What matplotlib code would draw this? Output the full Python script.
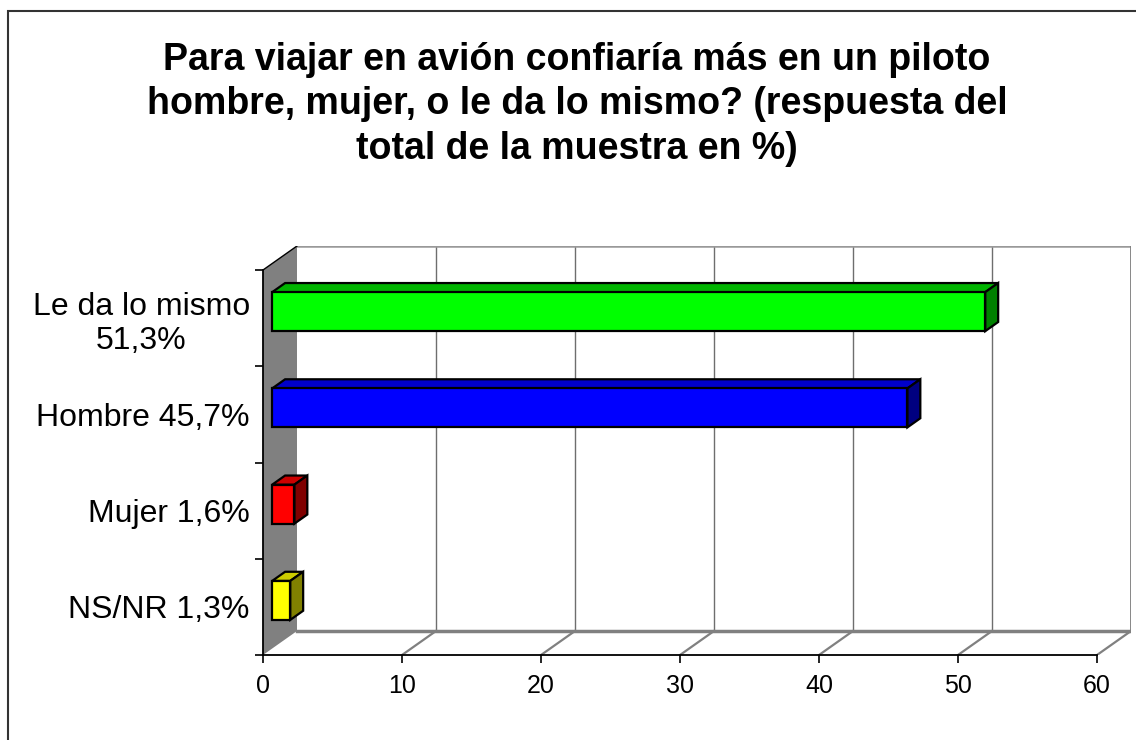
import matplotlib
matplotlib.use("Agg")
import matplotlib.pyplot as plt
from matplotlib.patches import Polygon, Rectangle

plt.rcParams["font.family"] = ["Liberation Sans", "DejaVu Sans"]

# Data (bottom to top)
categories = ["NS/NR 1,3%", "Mujer 1,6%", "Hombre 45,7%", "Le da lo mismo\n51,3%"]
values = [1.3, 1.6, 45.7, 51.3]
front_colors = ["#FFFF00", "#FF0000", "#0000FF", "#00FF00"]
top_colors = ["#CCCC00", "#CC0000", "#0000CC", "#00B400"]
side_colors = ["#808000", "#800000", "#000080", "#008000"]
xticks = [0, 10, 20, 30, 40, 50, 60]
title = ("Para viajar en avión confiaría más en un piloto\n"
         "hombre, mujer, o le da lo mismo? (respuesta del\n"
         "total de la muestra en %)")

W, H = 1136, 740
fig = plt.figure(figsize=(W / 100, H / 100), dpi=100)

# 3D box geometry (front plane + depth offset)
VMAX = 60
px_per_val = (1097 - 263) / VMAX
px_per_cat = (655 - 270) / len(categories)
DX = 34 / px_per_val
DY = 24 / px_per_cat
T_FRONT, T_BACK = 0.27, 0.65
BAR_H = 0.405
ncat = len(categories)
lo, hi = -0.5, ncat - 0.5


def proj(v, c, t):
    return (v + DX * t, c + DY * t)


ax = fig.add_axes([263 / W, (H - 655) / H, (1131 - 263) / W, (655 - 246) / H])
ax.set_xlim(0, VMAX + DX)
ax.set_ylim(lo, hi + DY)
for s in ax.spines.values():
    s.set_visible(False)

# back wall
back = Polygon([proj(0, lo, 1), proj(VMAX, lo, 1), proj(VMAX, hi, 1), proj(0, hi, 1)],
               closed=True, facecolor="white", edgecolor="none", zorder=0)
ax.add_patch(back)
for v in xticks[1:]:
    (x0, y0), (x1, y1) = proj(v, lo, 1), proj(v, hi, 1)
    ax.plot([x0, x1], [y0, y1], color="#6e6e6e", lw=1.0, zorder=1)
    (x0, y0), (x1, y1) = proj(v, lo, 0), proj(v, lo, 1)
    ax.plot([x0, x1], [y0, y1], color="#808080", lw=1.6, zorder=1)
(x0, y0), (x1, y1) = proj(0, hi, 1), proj(VMAX, hi, 1)
ax.plot([x0, x1], [y0, y1], color="#999999", lw=1.8, zorder=1)
(x0, y0), (x1, y1) = proj(0, lo, 1), proj(VMAX, lo, 1)
ax.plot([x0, x1], [y0, y1], color="#808080", lw=2.5, zorder=1)
(x0, y0), (x1, y1) = proj(VMAX, lo, 1), proj(VMAX, hi, 1)
ax.plot([x0, x1], [y0, y1], color="#808080", lw=2.0, zorder=1)

# side wall
side = Polygon([proj(0, lo, 0), proj(0, lo, 1), proj(0, hi, 1), proj(0, hi, 0)],
               closed=True, facecolor="#808080", edgecolor="none", zorder=2)
ax.add_patch(side)
(x0, y0), (x1, y1) = proj(0, hi, 0), proj(0, hi, 1)
ax.plot([x0, x1], [y0, y1], color="black", lw=1.0, zorder=3)

# front axis lines
ax.plot([0, VMAX], [lo, lo], color="black", lw=1.3, zorder=3, clip_on=False)
ax.plot([0, 0], [lo, hi], color="black", lw=1.3, zorder=3, clip_on=False)

# bars
for i, v in enumerate(values):
    y0, y1 = i - BAR_H / 2, i + BAR_H / 2
    top = [proj(0, y1, T_FRONT), proj(v, y1, T_FRONT), proj(v, y1, T_BACK), proj(0, y1, T_BACK)]
    sidef = [proj(v, y0, T_FRONT), proj(v, y0, T_BACK), proj(v, y1, T_BACK), proj(v, y1, T_FRONT)]
    front = [proj(0, y0, T_FRONT), proj(v, y0, T_FRONT), proj(v, y1, T_FRONT), proj(0, y1, T_FRONT)]
    for pts, col in [(top, top_colors[i]), (sidef, side_colors[i]), (front, front_colors[i])]:
        ax.add_patch(Polygon(pts, closed=True, facecolor=col, edgecolor="black",
                             lw=1.6, joinstyle="miter", zorder=4 + (ncat - i)))

# ticks
ax.set_xticks(xticks)
ax.set_xticklabels([str(t) for t in xticks], fontsize=18)
ax.tick_params(axis="x", direction="out", length=6, width=1.2, pad=8)
ax.set_yticks([lo + k for k in range(ncat + 1)])
ax.set_yticklabels([])
ax.tick_params(axis="y", which="major", direction="out", length=6, width=1.2)
ax.set_yticks(range(ncat), minor=True)
ax.set_yticklabels(categories, minor=True, fontsize=23)
ax.tick_params(axis="y", which="minor", length=0, pad=9.5)
for lbl in ax.get_yticklabels(minor=True):
    lbl.set_multialignment("center")

# title
fig.text(577 / W, 1 - 42 / H, title, ha="center", va="top", fontsize=27,
         fontweight="bold", linespacing=1.3)

# outer frame
fig.patches.append(Rectangle((8 / W, -0.5), 2, 1.5 - 11 / H, transform=fig.transFigure,
                             fill=False, edgecolor="#333333", lw=1.5))

fig.savefig("out.png", dpi=100)
